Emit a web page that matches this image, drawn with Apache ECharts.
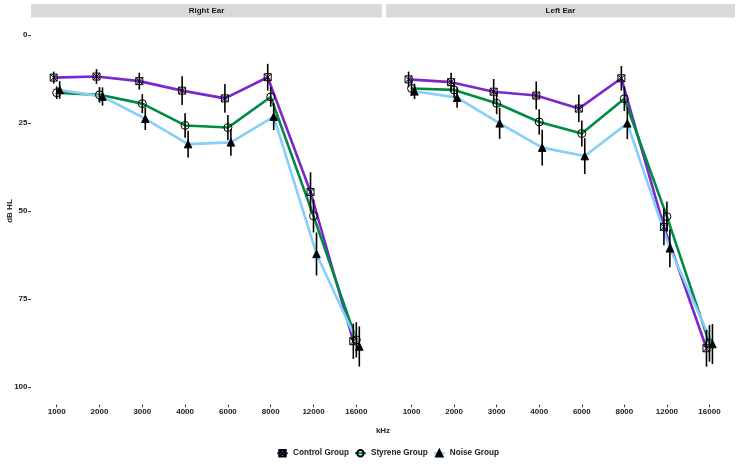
<!DOCTYPE html>
<html>
<head>
<meta charset="utf-8">
<script src="https://cdn.jsdelivr.net/npm/echarts@6/dist/echarts.min.js"></script>
<style>
html,body{margin:0;padding:0;background:#fff;}
#c{width:741px;height:464px;}
</style>
</head>
<body>
<div id="c"></div>
<script>
var freqLabels = ['1000','2000','3000','4000','6000','8000','12000','16000'];
var yTicks = [0, 25, 50, 75, 100];
var panelTitles = ['Right Ear', 'Left Ear'];
var groupNames = ['Control Group', 'Styrene Group', 'Noise Group'];

var rightControl   = [12.1, 11.8, 13.1, 15.8, 18.0, 12.0, 44.6, 87.0];
var rightStyrene   = [16.4, 17.0, 19.5, 25.7, 26.3, 17.6, 51.4, 86.6];
var rightNoise     = [15.6, 17.5, 23.8, 31.0, 30.5, 23.2, 62.2, 88.5];
var rightControlSE = [1.7, 2.1, 2.4, 4.1, 4.1, 3.8, 5.6, 5.0];
var rightStyreneSE = [1.8, 2.2, 2.7, 3.5, 3.6, 2.8, 4.7, 5.0];
var rightNoiseSE   = [2.5, 2.6, 3.2, 3.8, 3.8, 3.8, 6.1, 5.7];

var leftControl    = [12.6, 13.4, 16.1, 17.2, 20.9, 12.3, 54.5, 89.0];
var leftStyrene    = [15.2, 15.6, 19.4, 24.7, 28.0, 18.1, 51.6, 87.6];
var leftNoise      = [16.0, 17.8, 25.1, 32.0, 34.4, 25.1, 60.6, 87.8];
var leftControlSE  = [2.2, 2.7, 3.6, 4.0, 3.9, 3.5, 5.2, 5.2];
var leftStyreneSE  = [2.1, 2.2, 3.1, 3.6, 3.7, 3.5, 4.3, 5.2];
var leftNoiseSE    = [2.2, 2.9, 4.4, 5.1, 5.1, 4.5, 5.4, 5.7];

var colors = ['#7D26CD', '#008B45', '#87CEFA'];
var dodge = [-0.07, 0, 0.07];
var symbols = [
  'path://M0,0L10,0L10,10L0,10Z M0,0L10,10 M10,0L0,10',
  'circle',
  'triangle'
];
var fills = ['rgba(0,0,0,0)', 'rgba(0,0,0,0)', '#000'];
var symSizes = [7, 8, 7.5];

var panels = [
  {means: [rightControl, rightStyrene, rightNoise], se: [rightControlSE, rightStyreneSE, rightNoiseSE]},
  {means: [leftControl, leftStyrene, leftNoise], se: [leftControlSE, leftStyreneSE, leftNoiseSE]}
];

var FONT = 'Liberation Sans, Arial, sans-serif';
var txtColor = '#1a1a1a';

var grids = [
  {left: 31, right: 359, top: 17.4, bottom: 59.4},
  {left: 386, right: 6, top: 17.4, bottom: 59.4}
];

var xAxes = [], yAxes = [], series = [];
for (var p = 0; p < 2; p++) {
  xAxes.push({
    type: 'value', gridIndex: p, min: 0.4, max: 8.6, position: 'bottom',
    axisLine: {show: false, onZero: false},
    splitLine: {show: false},
    axisTick: {show: true, length: 2.7, lineStyle: {color: '#333', width: 1}, customValues: [1,2,3,4,5,6,7,8]},
    axisLabel: {
      show: true, margin: 3, color: txtColor, fontFamily: FONT, fontWeight: 'bold', fontSize: 8,
      customValues: [1,2,3,4,5,6,7,8],
      formatter: function (v) { return freqLabels[Math.round(v) - 1] || ''; }
    }
  });
  yAxes.push({
    type: 'value', gridIndex: p, min: -5, max: 105, inverse: true,
    axisLine: {show: false, onZero: false},
    splitLine: {show: false},
    axisTick: {show: p === 0, length: 2.7, lineStyle: {color: '#333', width: 1}, customValues: yTicks},
    axisLabel: {
      show: p === 0, margin: 3.5, color: txtColor, fontFamily: FONT, fontWeight: 'bold', fontSize: 8,
      customValues: yTicks
    },
    name: p === 0 ? 'dB HL' : '',
    nameLocation: 'middle', nameGap: 17, nameRotate: 90, nameMoveOverlap: false,
    nameTextStyle: {color: txtColor, fontFamily: FONT, fontWeight: 'bold', fontSize: 8}
  });
  for (var g = 0; g < 3; g++) {
    (function (p, g) {
      var m = panels[p].means[g], s = panels[p].se[g];
      series.push({
        type: 'line', name: groupNames[g], xAxisIndex: p, yAxisIndex: p,
        data: m.map(function (v, i) { return [i + 1 + dodge[g], v]; }),
        symbol: symbols[g], symbolSize: symSizes[g], showSymbol: true,
        lineStyle: {color: colors[g], width: 2.6},
        itemStyle: {color: fills[g], borderColor: '#000', borderWidth: 1},
        emphasis: {disabled: true},
        z: 2, animation: false
      });
      series.push({
        type: 'custom', name: groupNames[g] + ' err', xAxisIndex: p, yAxisIndex: p,
        data: m.map(function (v, i) { return [i + 1 + dodge[g], v - s[i], v + s[i]]; }),
        renderItem: function (params, api) {
          var a = api.coord([api.value(0), api.value(1)]);
          var b = api.coord([api.value(0), api.value(2)]);
          return {type: 'line', shape: {x1: a[0], y1: a[1], x2: b[0], y2: b[1]},
                  style: {stroke: '#000', lineWidth: 1.6}};
        },
        z: 3, animation: false, silent: true
      });
    })(p, g);
  }
}

var graphics = [];
var stripX = [[31, 382], [386, 735]];
for (var k = 0; k < 2; k++) {
  graphics.push({type: 'rect', shape: {x: stripX[k][0], y: 4, width: stripX[k][1] - stripX[k][0], height: 13.4},
                 style: {fill: '#d9d9d9'}, silent: true});
  graphics.push({type: 'text', x: (stripX[k][0] + stripX[k][1]) / 2, y: 10.9,
                 style: {text: panelTitles[k], fill: txtColor, font: 'bold 8px ' + FONT, textAlign: 'center', textVerticalAlign: 'middle'}});
}
graphics.push({type: 'text', x: 383, y: 431,
               style: {text: 'kHz', fill: txtColor, font: 'bold 8px ' + FONT, textAlign: 'center', textVerticalAlign: 'middle'}});

var chart = echarts.init(document.getElementById('c'), null, {renderer: 'canvas'});
chart.setOption({
  animation: false,
  backgroundColor: '#fff',
  grid: grids,
  xAxis: xAxes,
  yAxis: yAxes,
  legend: {
    data: groupNames, top: 444, left: 271,
    itemWidth: 11, itemHeight: 8, itemGap: 5,
    textStyle: {color: txtColor, fontFamily: FONT, fontWeight: 'bold', fontSize: 8.2},
    selectedMode: false
  },
  graphic: graphics,
  series: series
});
</script>
</body>
</html>
